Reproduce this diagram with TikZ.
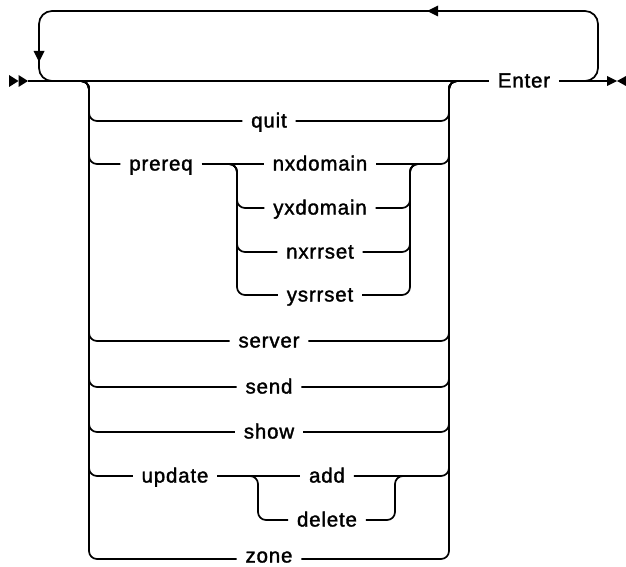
\documentclass[tikz,border=0pt]{standalone}
\usepackage{fontspec}
\setmainfont{Liberation Sans}[LetterSpace=4,FakeBold=1.6]
\begin{document}
\begin{tikzpicture}[x=1pt,y=-1pt,line width=1.7pt,
  lbl/.style={inner xsep=8pt,inner ysep=0pt,text height=13pt,text depth=0pt,font=\fontsize{20.5}{24}\selectfont},
  rc/.style={rounded corners=8pt},
  rl/.style={rounded corners=13pt},
  tipfill/.style={fill=black,draw=none}]
\useasboundingbox (0,0) rectangle (626,567);
% main line
\coordinate (start) at (28,81);
\coordinate (end) at (607,81);
\node[lbl] (enter) at (524,81) {Enter};
\draw (start) -- (enter);
\draw (enter) -- (end);
\fill[tipfill] (9,75) -- (18.5,81) -- (9,87) -- cycle;
\fill[tipfill] (18.5,75) -- (28,81) -- (18.5,87) -- cycle;
\fill[tipfill] (607,76) -- (617,81) -- (607,86) -- cycle;
\fill[tipfill] (626,76) -- (617,81) -- (626,86) -- cycle;
% repeat loop
\coordinate (lpR) at (575,81);
\coordinate (lpL) at (56,81);
\draw[rl] (lpR) -| (598,11) -| (39,81) -- (lpL);
\fill[tipfill] (427,11) -- (438,5.5) -- (438,16.5) -- cycle;
\fill[tipfill] (39,62) -- (33.5,51) -- (44.5,51) -- cycle;
% choice
\coordinate (cL) at (80,81);
\coordinate (cR) at (458,81);
\node[lbl] (quit) at (269,121) {quit};
\node[lbl] (prereq) at (161,164) {prereq};
\node[lbl] (nxd) at (320,164) {nxdomain};
\node[lbl] (yxd) at (320,208) {yxdomain};
\node[lbl] (nxr) at (320,252) {nxrrset};
\node[lbl] (ysr) at (320,295) {ysrrset};
\node[lbl] (server) at (269,341) {server};
\node[lbl] (send) at (269,387) {send};
\node[lbl] (show) at (269,432) {show};
\node[lbl] (update) at (175,476) {update};
\node[lbl] (add) at (327,476) {add};
\node[lbl] (delete) at (327,520) {delete};
\node[lbl] (zone) at (269,556) {zone};
\foreach \n/\y in {quit/121,server/341,send/387,show/432}{
  \draw[rc] (cL) -| (89,\y) -- (\n);
  \draw[rc] (\n) -| (449,81) -- (cR);
}
\draw[rc] (cL) -| (89,559) -- (zone.west |- 0,559);
\draw[rc] (zone.east |- 0,559) -| (449,81) -- (cR);
% prereq
\draw[rc] (cL) -| (89,164) -- (prereq);
\draw (prereq) -- (nxd);
\draw[rc] (nxd) -| (449,81) -- (cR);
\coordinate (iL) at (229,164);
\coordinate (iR) at (418,164);
\foreach \n/\y in {yxd/208,nxr/252,ysr/295}{
  \draw[rc] (iL) -| (237,\y) -- (\n);
  \draw[rc] (\n) -| (410,164) -- (iR);
}
% update
\draw[rc] (cL) -| (89,476) -- (update);
\draw (update) -- (add);
\draw[rc] (add) -| (449,81) -- (cR);
\coordinate (uL) at (250,476);
\coordinate (uR) at (403,476);
\draw[rc] (uL) -| (258,520) -- (delete);
\draw[rc] (delete) -| (395,476) -- (uR);
\end{tikzpicture}
\end{document}
